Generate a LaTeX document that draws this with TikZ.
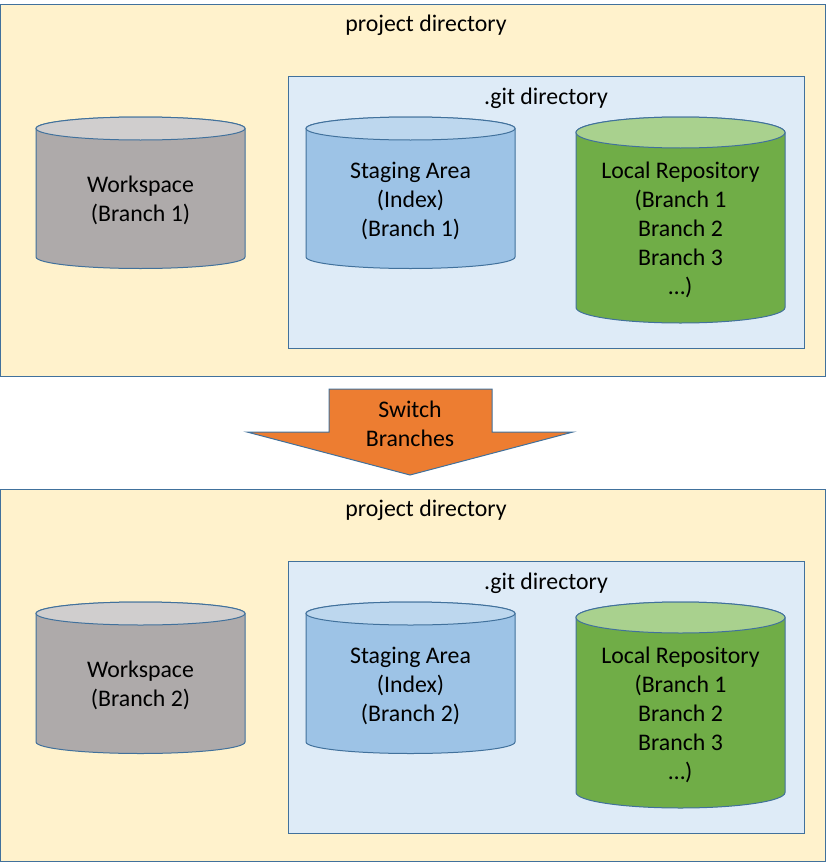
\documentclass[tikz,border=0pt]{standalone}
\usepackage{fontspec}
\setmainfont{Carlito}
\definecolor{bord}{HTML}{41719C}
\definecolor{projfill}{HTML}{FFF2CC}
\definecolor{gitfill}{HTML}{DEEBF7}
\definecolor{wsbody}{HTML}{AEAAAA}
\definecolor{wstop}{HTML}{D0CECE}
\definecolor{stbody}{HTML}{9DC3E6}
\definecolor{sttop}{HTML}{BDD7EE}
\definecolor{lrbody}{HTML}{70AD47}
\definecolor{lrtop}{HTML}{A9D18E}
\definecolor{arrowfill}{HTML}{ED7D31}
\newcommand\drawcyl[7]{%
  \pgfmathsetmacro\cylrx{(#2-#1)/2}%
  \pgfmathsetmacro\cylcx{(#2+#1)/2}%
  \path[draw=bord, line width=1pt, fill=#6] (#1,-#3) -- (#1,-#4)
    arc[start angle=180, end angle=360, x radius=\cylrx pt, y radius=#5pt]
    -- (#2,-#3)
    arc[start angle=0, end angle=180, x radius=\cylrx pt, y radius=#5pt] -- cycle;
  \path[draw=bord, line width=1pt, fill=#7] (\cylcx,-#3) ellipse[x radius=\cylrx pt, y radius=#5pt];
}
\begin{document}
\begin{tikzpicture}[x=1pt, y=1pt,
  txt/.style={align=center, inner sep=0pt, font=\fontsize{23.8}{29}\selectfont},
  panel/.style={draw=bord, line width=1pt, fill=projfill},
  gitbox/.style={draw=bord, line width=1pt, fill=gitfill}]
\useasboundingbox (0,0) rectangle (826,-862);
\foreach \off/\br in {0/1, 485/2} {
  \path[panel] (0.5,-4-\off) rectangle (825,-376-\off);
  \node[txt] (proj\br) at (426,-25-\off) {project directory};
  \path[gitbox] (288,-76-\off) rectangle (804,-348-\off);
  \node[txt] (git\br) at (546,-98-\off) {.git directory};
  \pgfmathsetmacro\ta{128.5+\off}
  \pgfmathsetmacro\tb{257+\off}
  \drawcyl{36}{245}{\ta}{\tb}{11.5}{wsbody}{wstop}
  \drawcyl{306}{515}{\ta}{\tb}{11.5}{stbody}{sttop}
  \pgfmathsetmacro\tc{132.5+\off}
  \pgfmathsetmacro\td{307.5+\off}
  \drawcyl{576}{785}{\tc}{\td}{15.5}{lrbody}{lrtop}
  \node[txt] (ws\br) at (140.5,-200.5-\off) {Workspace\\(Branch \br)};
  \node[txt] (st\br) at (410.5,-200.5-\off) {Staging Area\\(Index)\\(Branch \br)};
  \node[txt] (lr\br) at (680.5,-229.5-\off) {Local Repository\\(Branch 1\\Branch 2\\Branch 3\\\dots)};
}
\path[draw=bord, line width=1pt, fill=arrowfill]
  (329,-389) -- (492,-389) -- (492,-432) -- (573,-432) -- (410,-475)
  -- (247,-432) -- (329,-432) -- cycle;
\node[txt] (switch) at (410,-424) {Switch\\Branches};
\end{tikzpicture}
\end{document}
